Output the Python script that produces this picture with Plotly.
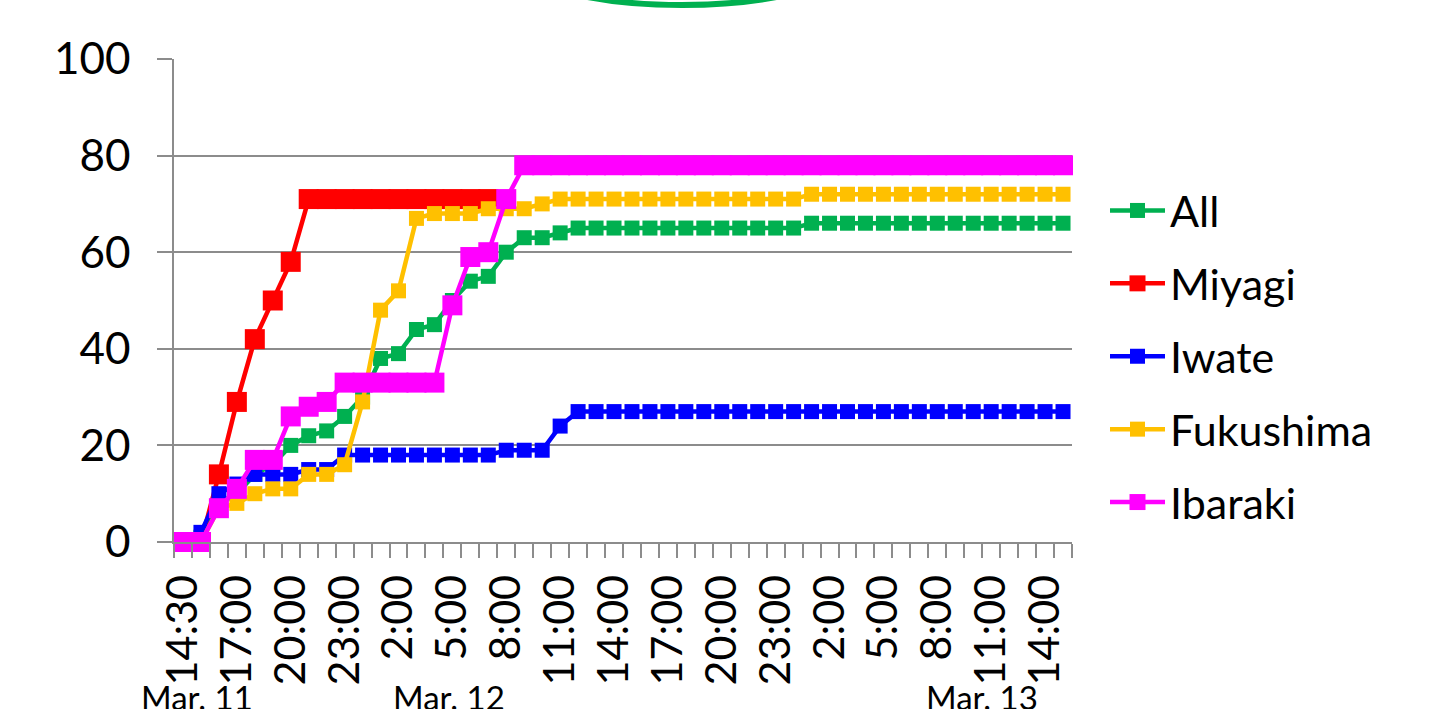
import plotly.graph_objects as go

# Hourly time points from 14:30 on Mar. 11 through 15:00 on Mar. 13
times = ["14:30", "15:00", "16:00", "17:00", "18:00", "19:00", "20:00", "21:00",
         "22:00", "23:00", "0:00", "1:00", "2:00", "3:00", "4:00", "5:00",
         "6:00", "7:00", "8:00", "9:00", "10:00", "11:00", "12:00", "13:00",
         "14:00", "15:00", "16:00", "17:00", "18:00", "19:00", "20:00", "21:00",
         "22:00", "23:00", "0:00", "1:00", "2:00", "3:00", "4:00", "5:00",
         "6:00", "7:00", "8:00", "9:00", "10:00", "11:00", "12:00", "13:00",
         "14:00", "15:00"]

all_pref = [0, 1, 8, 10, 14, 16, 20, 22, 23, 26, 30, 38, 39, 44, 45, 50, 54, 55, 60, 63,
            63, 64, 65, 65, 65, 65, 65, 65, 65, 65, 65, 65, 65, 65, 65, 66, 66, 66, 66, 66,
            66, 66, 66, 66, 66, 66, 66, 66, 66, 66]
miyagi = [0, 0, 14, 29, 42, 50, 58, 71, 71, 71, 71, 71, 71, 71, 71, 71, 71, 71, None, None,
          None, None, None, None, None, None, None, None, None, None, None, None, None, None,
          None, None, None, None, None, None, None, None, None, None, None, None, None, None,
          None, None]
iwate = [0, 2, 10, 12, 14, 14, 14, 15, 15, 18, 18, 18, 18, 18, 18, 18, 18, 18, 19, 19,
         19, 24, 27, 27, 27, 27, 27, 27, 27, 27, 27, 27, 27, 27, 27, 27, 27, 27, 27, 27,
         27, 27, 27, 27, 27, 27, 27, 27, 27, 27]
fukushima = [0, 0, 7, 8, 10, 11, 11, 14, 14, 16, 29, 48, 52, 67, 68, 68, 68, 69, 69, 69,
             70, 71, 71, 71, 71, 71, 71, 71, 71, 71, 71, 71, 71, 71, 71, 72, 72, 72, 72, 72,
             72, 72, 72, 72, 72, 72, 72, 72, 72, 72]
ibaraki = [0, 0, 7, 11, 17, 17, 26, 28, 29, 33, 33, 33, 33, 33, 33, 49, 59, 60, 71, 78,
           78, 78, 78, 78, 78, 78, 78, 78, 78, 78, 78, 78, 78, 78, 78, 78, 78, 78, 78, 78,
           78, 78, 78, 78, 78, 78, 78, 78, 78, 78]

day_labels = ["Mar. 11", "Mar. 12", "Mar. 13"]

series = [
    ("All", all_pref, "#00B050", 15),
    ("Miyagi", miyagi, "#FF0000", 20),
    ("Iwate", iwate, "#0000FF", 15),
    ("Fukushima", fukushima, "#FFC000", 15),
    ("Ibaraki", ibaraki, "#FF00FF", 20),
]

FONT = "Lato, Carlito, Calibri, sans-serif"
GRID = "#8C8C8C"
L, R, T, B = 174, 367, 59, 167
W, H = 1439, 709
pw, ph = W - L - R, H - T - B


def px_x(p):
    return (p - L) / pw


def px_y(p):
    return (H - B - p) / ph


# horizontal centres (page pixels) of the date captions under the time labels
DAY_LABEL_PX = [197, 449, 982]

x_idx = list(range(len(times)))

fig = go.Figure()
for name, vals, color, msize in series:
    fig.add_trace(go.Scatter(
        x=x_idx, y=vals, name=name, mode="lines+markers",
        line=dict(color=color, width=4.5),
        marker=dict(symbol="square", size=msize, color=color, line=dict(width=0)),
        cliponaxis=False, legendgroup=name,
    ))

label_idx = x_idx[::3]
fig.update_xaxes(
    range=[-0.5, len(times) - 0.5],
    tickmode="array", tickvals=label_idx, ticktext=[times[i] for i in label_idx],
    tickangle=-90, ticks="", ticklabelstandoff=14,
    tickfont=dict(family=FONT, size=43, color="black"),
    showgrid=False, zeroline=False,
    showline=True, linecolor=GRID, linewidth=1.5,
    minor=dict(tickmode="array", tickvals=[i - 0.5 for i in range(len(times) + 1)],
               ticks="outside", ticklen=14, tickcolor=GRID, tickwidth=1.5, showgrid=False),
)
fig.update_yaxes(
    range=[0, 100], tickmode="linear", tick0=0, dtick=20,
    ticks="outside", ticklen=15, tickcolor=GRID, tickwidth=1.5, ticklabelstandoff=18,
    tickfont=dict(family=FONT, size=44, color="black"),
    showgrid=True, gridcolor=GRID, gridwidth=1.5, zeroline=False,
    showline=True, linecolor=GRID, linewidth=1.5,
)

# oval outline peeking in at the top of the page
fig.add_shape(type="circle", xref="paper", yref="paper",
              x0=px_x(506), x1=px_x(858), y0=px_y(5), y1=px_y(-99),
              line=dict(color="#00B050", width=6), fillcolor="rgba(0,0,0,0)")

for txt, cx in zip(day_labels, DAY_LABEL_PX):
    fig.add_annotation(text=txt, xref="paper", yref="paper",
                       x=px_x(cx), y=px_y(675),
                       xanchor="center", yanchor="top", showarrow=False,
                       font=dict(family=FONT, size=33, color="black"))

fig.update_layout(
    width=W, height=H,
    margin=dict(l=L, r=R, t=T, b=B, pad=0),
    paper_bgcolor="white", plot_bgcolor="white",
    font=dict(family=FONT, color="black"),
    showlegend=True,
    legend=dict(x=px_x(1105), y=px_y(176), xanchor="left", yanchor="top",
                font=dict(family=FONT, size=43, color="black"),
                itemwidth=55, tracegroupgap=14, bgcolor="rgba(0,0,0,0)"),
)

fig.write_html("out.html")
